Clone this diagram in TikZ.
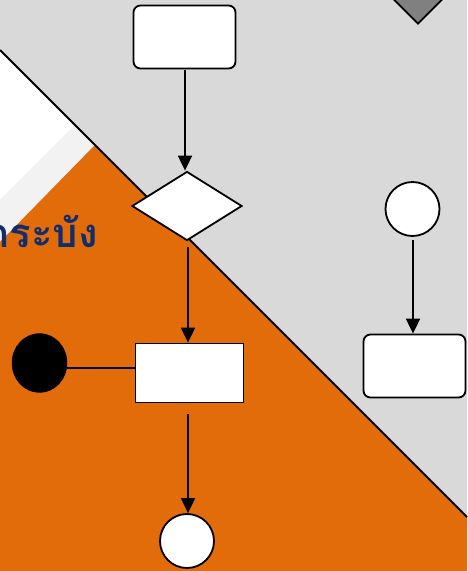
\documentclass[tikz,border=0pt]{standalone}
\usepackage{fontspec}
\newfontfamily\thaifont[Script=Thai]{Loma}
\usetikzlibrary{shapes.geometric,arrows.meta}
\definecolor{bggray}{HTML}{D9D9D9}
\definecolor{bandgray}{HTML}{F2F2F2}
\definecolor{accent}{HTML}{E36C0A}
\definecolor{darkgray}{HTML}{808080}
\definecolor{navy}{HTML}{102E6E}
\tikzset{
  box/.style={draw=black, line width=1.8pt, fill=white, rounded corners=7pt, minimum width=102pt, minimum height=63pt, inner sep=0pt},
  plainbox/.style={draw=black, line width=1.8pt, fill=white, minimum width=108pt, minimum height=59pt, inner sep=0pt},
  decision/.style={draw=black, line width=1.8pt, fill=white, diamond, minimum width=110pt, minimum height=69pt, inner sep=0pt},
  endpoint/.style={draw=black, line width=1.8pt, fill=white, circle, minimum size=54pt, inner sep=0pt},
  startdot/.style={draw=black, fill=black, ellipse, minimum width=55pt, minimum height=59pt, inner sep=0pt},
  flow/.style={draw=black, line width=1.8pt, -{Triangle[width=14pt,length=15pt]}},
  link/.style={draw=black, line width=1.8pt},
}
\begin{document}
\begin{tikzpicture}[x=1pt,y=-1pt]
  % backdrop
  \fill[bggray] (0,0) rectangle (467,571);
  \useasboundingbox (0,0) rectangle (467,571);
  \fill[white] (0,50) -- (75,125) -- (0,200) -- cycle;
  \fill[bandgray] (75,125) -- (95,145) -- (0,242) -- (0,200) -- cycle;
  \fill[accent] (95,145) -- (467,517) -- (467,571) -- (0,571) -- (0,242) -- cycle;
  \draw[black, line width=1.8pt] (0,50) -- (467,517);
  % marker at the top edge
  \node[draw=black, line width=1.8pt, fill=darkgray, diamond, minimum width=50pt, minimum height=50pt, inner sep=0pt] (mark) at (418,-1) {};
  % heading
  \node[anchor=base east, text=navy, font=\thaifont\bfseries\fontsize{40}{46}\selectfont, inner sep=0pt] (title) at (98,247) {กระบัง};
  % flow nodes
  \node[box] (top) at (184.5,37) {};
  \node[decision] (dec) at (187,206) {};
  \node[plainbox] (act) at (189.5,373) {};
  \node[startdot] (dot) at (39.5,363) {};
  \node[endpoint] (fin) at (187,541) {};
  \node[endpoint] (rc) at (412.5,209) {};
  \node[box] (rbox) at (414.5,366) {};
  \coordinate (t1) at (185,70);
  \coordinate (d1) at (188,247);
  \coordinate (a1) at (188,414);
  \coordinate (r1) at (413,240);
  % connectors
  \draw[flow] (t1) -- (t1 |- dec.north);
  \draw[flow] (d1) -- (d1 |- act.north);
  \draw[flow] (a1) -- (a1 |- fin.north);
  \draw[flow] (r1) -- (r1 |- rbox.north);
  \draw[link] (dot.east |- 0,368) -- (act.west |- 0,368);
\end{tikzpicture}
\end{document}
